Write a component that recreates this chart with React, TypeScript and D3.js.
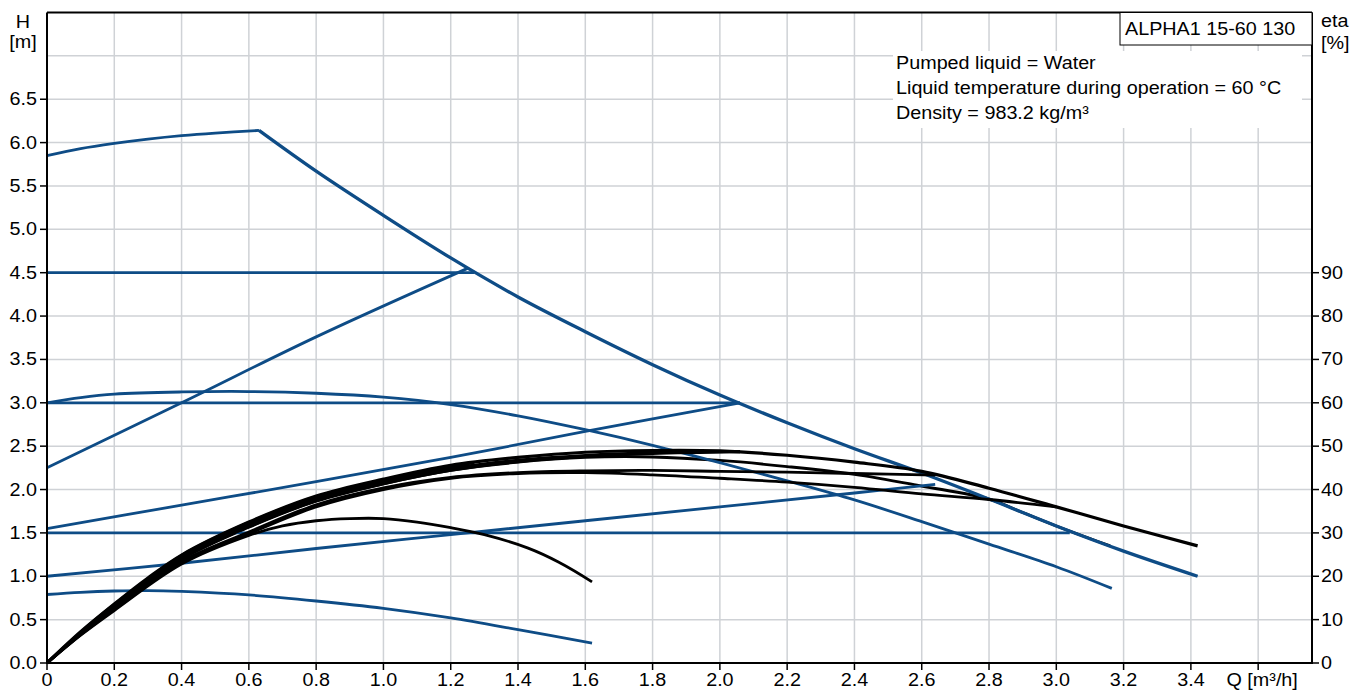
import React from "react";
import * as d3 from "d3";

const width = 1365;
const height = 690;
const plot = { left: 47, right: 1312, top: 12.5, bottom: 663 };

const FONT = "'Liberation Sans', Arial, sans-serif";
const FS = 17.5;
const SX = 1.13; // text in the reference is wider than its height suggests

// axis ticks
const qTicks = [0, 0.2, 0.4, 0.6, 0.8, 1.0, 1.2, 1.4, 1.6, 1.8, 2.0, 2.2, 2.4, 2.6, 2.8, 3.0, 3.2, 3.4];
const qGrid = [0.2, 0.4, 0.6, 0.8, 1.0, 1.2, 1.4, 1.6, 1.8, 2.0, 2.2, 2.4, 2.6, 2.8, 3.0, 3.2, 3.4, 3.6];
const hTicks = [0, 0.5, 1.0, 1.5, 2.0, 2.5, 3.0, 3.5, 4.0, 4.5, 5.0, 5.5, 6.0, 6.5];
const hGrid = [0.5, 1.0, 1.5, 2.0, 2.5, 3.0, 3.5, 4.0, 4.5, 5.0, 5.5, 6.0, 6.5, 7.0];
const etaTicks = [0, 10, 20, 30, 40, 50, 60, 70, 80, 90];

const infoLines = [
  "Pumped liquid = Water",
  "Liquid temperature during operation = 60 °C",
  "Density = 983.2 kg/m³",
];
const pumpName = "ALPHA1 15-60 130";

// H-Q curves [Q m3/h, H m]
const maxRise = [[0, 5.85], [0.1, 5.93], [0.2, 5.99], [0.3, 6.04], [0.4, 6.08], [0.5, 6.11], [0.63, 6.14]];
const maxFall = [[0.63, 6.14], [0.8, 5.67], [1.0, 5.16], [1.2, 4.67], [1.4, 4.22], [1.6, 3.82], [1.8, 3.44], [2.0, 3.09], [2.2, 2.77], [2.4, 2.47], [2.6, 2.19], [2.8, 1.89], [3.0, 1.58], [3.2, 1.29], [3.42, 1.0]];
const cp45 = [[0, 4.5], [1.27, 4.5]];
const pp225 = [[0, 2.25], [0.4, 3.0], [0.8, 3.76], [1.25, 4.55]];
const cp30 = [[0, 3.0], [2.06, 3.0]];
const pp155 = [[0, 1.55], [0.4, 1.82], [0.8, 2.09], [1.2, 2.37], [1.6, 2.67], [2.06, 3.0]];
const cp15 = [[0, 1.5], [3.04, 1.5]];
const pp10 = [[0, 1.0], [0.4, 1.15], [0.8, 1.32], [1.2, 1.48], [1.6, 1.64], [2.0, 1.8], [2.4, 1.96], [2.64, 2.06]];
const medCurve = [[0, 3.0], [0.1, 3.06], [0.2, 3.1], [0.4, 3.125], [0.6, 3.13], [0.8, 3.11], [1.0, 3.065], [1.2, 2.98], [1.4, 2.85], [1.6, 2.69], [1.8, 2.51], [2.0, 2.31], [2.2, 2.1], [2.4, 1.88], [2.6, 1.63], [2.8, 1.37], [3.0, 1.11], [3.165, 0.86]];
const minCurve = [[0, 0.79], [0.1, 0.815], [0.2, 0.83], [0.3, 0.835], [0.4, 0.825], [0.6, 0.785], [0.8, 0.715], [1.0, 0.63], [1.2, 0.52], [1.4, 0.385], [1.62, 0.23]];

// efficiency curves [Q m3/h, eta %]
const etaMax = [[0, 0], [0.1, 7.2], [0.2, 13.6], [0.3, 19.6], [0.4, 24.9], [0.6, 32.5], [0.8, 38.5], [1.0, 42.4], [1.2, 45.6], [1.4, 47.4], [1.6, 48.6], [1.8, 49.0], [2.0, 48.9], [2.2, 47.9], [2.4, 46.3], [2.6, 44.2], [2.8, 40.3], [3.0, 36.0], [3.2, 31.6], [3.42, 27.0]];
const etaCp45 = [[0, 0], [0.1, 7.1], [0.2, 13.5], [0.4, 24.8], [0.6, 32.4], [0.8, 38.4], [1.0, 42.2], [1.27, 46.2]];
const etaPp225 = [[0, 0], [0.1, 7.0], [0.2, 13.3], [0.4, 24.6], [0.6, 32.1], [0.8, 38.1], [1.0, 41.9], [1.25, 45.7]];
const etaCp30 = [[0, 0], [0.1, 6.9], [0.2, 13.1], [0.4, 24.3], [0.6, 31.8], [0.8, 37.8], [1.0, 41.8], [1.2, 44.9], [1.4, 46.8], [1.6, 47.9], [1.8, 48.5], [2.06, 48.8]];
const etaPp155 = [[0, 0], [0.1, 6.8], [0.2, 12.9], [0.4, 24.0], [0.6, 31.4], [0.8, 37.4], [1.0, 41.3], [1.2, 44.4], [1.4, 46.4], [1.6, 47.6], [1.8, 48.3], [2.06, 48.7]];
const etaMed = [[0, 0], [0.1, 6.8], [0.2, 12.8], [0.4, 23.9], [0.6, 31.3], [0.8, 37.3], [1.0, 41.3], [1.2, 44.4], [1.4, 46.3], [1.6, 47.4], [1.8, 47.5], [2.0, 46.7], [2.2, 45.3], [2.4, 43.5], [2.6, 40.8], [2.8, 37.8], [2.9, 34.7], [3.0, 31.6], [3.1, 28.7], [3.16, 27.0]];
const etaPp10 = [[0, 0], [0.1, 6.6], [0.2, 12.5], [0.4, 23.4], [0.6, 30.2], [0.8, 36.5], [1.0, 40.4], [1.2, 42.8], [1.4, 43.9], [1.6, 44.3], [1.8, 44.4], [2.0, 44.2], [2.2, 44.0], [2.4, 43.7], [2.64, 43.3]];
const etaCp15 = [[0, 0], [0.1, 6.5], [0.2, 12.3], [0.4, 23.1], [0.6, 29.8], [0.8, 36.0], [1.0, 40.0], [1.2, 42.6], [1.4, 43.7], [1.6, 43.9], [1.8, 43.4], [2.0, 42.6], [2.2, 41.7], [2.4, 40.5], [2.6, 39.0], [2.8, 37.7], [3.0, 36.0]];
const etaMin = [[0, 0], [0.1, 6.4], [0.2, 12.1], [0.4, 22.8], [0.6, 29.4], [0.7, 31.6], [0.8, 32.8], [0.9, 33.3], [1.0, 33.3], [1.1, 32.5], [1.2, 31.2], [1.3, 29.6], [1.43, 26.5], [1.52, 23.3], [1.62, 18.7]];

const blue = "#0e4c86";
const gridColor = "#cfd2d6";

const x = d3.scaleLinear().domain([0, 3.76]).range([plot.left, plot.right]);
const yH = d3.scaleLinear().domain([0, 7.5]).range([plot.bottom, plot.top]);
const yEta = d3.scaleLinear().domain([0, 150]).range([plot.bottom, plot.top]);

const smooth = d3.curveCatmullRom.alpha(0.5);
const lineH = d3
  .line<number[]>()
  .x(d => x(d[0]))
  .y(d => yH(d[1]))
  .curve(smooth);
const lineEta = d3
  .line<number[]>()
  .x(d => x(d[0]))
  .y(d => yEta(d[1]))
  .curve(smooth);

function T({ x, y, anchor = "start", children }: any) {
  return (
    <text
      transform={`translate(${x},${y}) scale(${SX},1)`}
      textAnchor={anchor}
      fontFamily={FONT}
      fontSize={FS}
      fill="#000"
    >
      {children}
    </text>
  );
}

export default function App() {
  const blueCurves = [maxRise, maxFall, cp45, pp225, cp30, pp155, cp15, pp10, medCurve, minCurve];
  const blackCurves = [etaMin, etaCp15, etaPp10, etaPp155, etaCp30, etaPp225, etaCp45, etaMax];
  return (
    <svg
      width={width}
      height={height}
      style={{ position: "absolute", left: 0, top: 0, background: "#fff" }}
    >
      <rect x={0} y={0} width={width} height={height} fill="#fff" />
      {/* grid */}
      {qGrid.map(q => (
        <line key={"gx" + q} x1={x(q)} x2={x(q)} y1={plot.top} y2={plot.bottom} stroke={gridColor} strokeWidth={1.5} />
      ))}
      {hGrid.map(h => (
        <line key={"gy" + h} x1={plot.left} x2={plot.right} y1={yH(h)} y2={yH(h)} stroke={gridColor} strokeWidth={1.5} />
      ))}

      {/* info block */}
      <rect x={893} y={51} width={409} height={77} fill="#fff" />
      {infoLines.map((t, i) => (
        <T key={t} x={896} y={69 + i * 25}>{t}</T>
      ))}

      {/* curves: the medium-speed eta runs under the max curve, so it goes first */}
      <path d={lineEta(etaMed) || ""} fill="none" stroke="#000" strokeWidth={2.8} />
      {blueCurves.map((c, i) => (
        <path key={"b" + i} d={lineH(c) || ""} fill="none" stroke={blue} strokeWidth={c === maxFall ? 3.3 : 2.8} />
      ))}
      {blackCurves.map((c, i) => (
        <path key={"k" + i} d={lineEta(c) || ""} fill="none" stroke="#000" strokeWidth={c === etaMax ? 3.2 : 2.8} />
      ))}

      {/* frame */}
      <line x1={plot.left} x2={plot.right} y1={plot.top} y2={plot.top} stroke="#000" strokeWidth={2} />
      <line x1={plot.left} x2={plot.right} y1={plot.bottom} y2={plot.bottom} stroke="#000" strokeWidth={2} />
      <line x1={plot.left} x2={plot.left} y1={plot.top} y2={plot.bottom + 1} stroke="#000" strokeWidth={2} />
      <line x1={plot.right} x2={plot.right} y1={plot.top} y2={plot.bottom + 1} stroke="#000" strokeWidth={2} />

      {/* pump name box */}
      <rect x={1120} y={plot.top} width={plot.right - 1120} height={32.5} fill="#fff" stroke="#000" strokeWidth={1} />
      <T x={1125} y={35}>{pumpName}</T>

      {/* left axis */}
      {hTicks.map(h => (
        <g key={"ht" + h}>
          <line x1={plot.left - 7} x2={plot.left} y1={yH(h)} y2={yH(h)} stroke="#000" strokeWidth={1.5} />
          <T x={37} y={yH(h) + 6} anchor="end">{h.toFixed(1)}</T>
        </g>
      ))}
      <T x={23} y={28} anchor="middle">H</T>
      <T x={23} y={48} anchor="middle">[m]</T>

      {/* right axis */}
      {etaTicks.map(e => (
        <g key={"et" + e}>
          <line x1={plot.right} x2={plot.right + 7} y1={yEta(e)} y2={yEta(e)} stroke="#000" strokeWidth={1.5} />
          <T x={1321} y={yEta(e) + 6}>{e}</T>
        </g>
      ))}
      <T x={1321} y={27}>eta</T>
      <T x={1321} y={49}>[%]</T>

      {/* bottom axis */}
      {qGrid.concat([0]).map(q => (
        <line key={"qt" + q} x1={x(q)} x2={x(q)} y1={plot.bottom} y2={plot.bottom + 7} stroke="#000" strokeWidth={1.5} />
      ))}
      {qTicks.map(q => (
        <T key={"ql" + q} x={x(q)} y={686} anchor="middle">{q === 0 ? "0" : q.toFixed(1)}</T>
      ))}
      <T x={x(3.6) + 4} y={686} anchor="middle">Q [m³/h]</T>
    </svg>
  );
}
